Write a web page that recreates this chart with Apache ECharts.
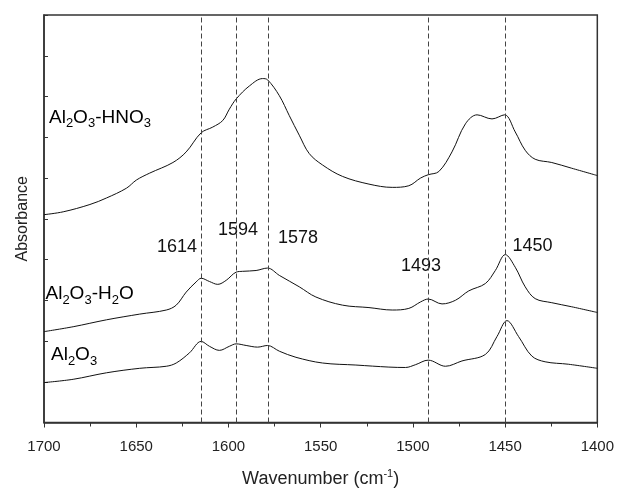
<!DOCTYPE html>
<html><head><meta charset="utf-8">
<script src="https://cdn.jsdelivr.net/npm/echarts@6/dist/echarts.min.js"></script>
<style>html,body{margin:0;padding:0;background:#fff}#c{width:617px;height:493px}</style>
</head><body><div id="c"></div>
<script>
// ---- data (wavenumber cm-1, absorbance in arbitrary stacked units) ----
const xTickLabels = [1700, 1650, 1600, 1550, 1500, 1450, 1400];
const peakMarks = [1614.6, 1595.7, 1578.5, 1491.8, 1450];
const peakLabels = ['1614', '1594', '1578', '1493', '1450'];
const seriesNames = ['Al2O3-HNO3', 'Al2O3-H2O', 'Al2O3'];

const hno3 = [[1700,5.10],[1689.6,5.17],[1675.1,5.35],[1666.1,5.51],[1655.3,5.75],[1649.9,5.95],[1642.7,6.12],[1630.1,6.38],[1622.9,6.64],[1614.8,7.11],[1608.5,7.25],[1603.1,7.41],[1599.5,7.69],[1595.8,7.94],[1588.6,8.26],[1581.5,8.44],[1578.8,8.41],[1572.4,8.02],[1567.0,7.53],[1561.6,7.05],[1556.2,6.60],[1549.0,6.32],[1538.2,6.04],[1523.8,5.85],[1511.2,5.77],[1502.2,5.81],[1495.8,6.00],[1491.7,6.08],[1485.9,6.16],[1478.8,6.64],[1471.5,7.33],[1465.2,7.55],[1457.1,7.45],[1450.3,7.55],[1444.5,7.13],[1439.1,6.68],[1433.7,6.46],[1424.7,6.38],[1413.9,6.24],[1400,6.06]];

const h2o = [[1700,2.23],[1684.2,2.35],[1666.1,2.52],[1648.1,2.66],[1633.7,2.76],[1628.3,2.88],[1622.9,3.20],[1617.5,3.45],[1614.8,3.54],[1610.3,3.46],[1605.8,3.39],[1601.2,3.49],[1595.8,3.69],[1592.3,3.71],[1585.0,3.73],[1578.8,3.79],[1572.4,3.61],[1561.6,3.33],[1552.6,3.08],[1538.2,2.88],[1523.8,2.82],[1511.2,2.76],[1502.2,2.80],[1495.8,2.96],[1491.7,3.03],[1484.2,2.91],[1476.9,3.00],[1469.7,3.23],[1460.7,3.41],[1455.3,3.73],[1449.9,4.12],[1444.5,3.81],[1439.1,3.33],[1433.7,3.04],[1424.7,2.94],[1413.9,2.84],[1400,2.70]];

const al2o3 = [[1700,0.98],[1684.2,1.06],[1666.1,1.22],[1648.1,1.33],[1633.7,1.38],[1628.3,1.46],[1621.1,1.71],[1614.8,1.99],[1610.3,1.87],[1604.9,1.77],[1599.5,1.87],[1595.8,1.93],[1590.4,1.89],[1584.2,1.85],[1578.8,1.89],[1572.4,1.75],[1563.4,1.60],[1549.0,1.46],[1530.9,1.41],[1513.0,1.36],[1504.0,1.35],[1498.5,1.42],[1491.7,1.53],[1482.3,1.38],[1473.4,1.51],[1460.7,1.67],[1454.4,2.11],[1449.0,2.50],[1442.7,2.11],[1435.5,1.63],[1428.3,1.49],[1415.7,1.43],[1400,1.33]];

// ---- chart ----
const FONT = '"Liberation Sans", Arial, Helvetica, sans-serif';
const chart = echarts.init(document.getElementById('c'), null, {renderer: 'canvas'});

function lineSeries(name, data, withMarks) {
  const s = {
    name, type: 'line', data, smooth: 0.35, symbol: 'none', animation: false,
    lineStyle: {color: '#111', width: 1}, z: 3
  };
  if (withMarks) {
    s.markLine = {
      silent: true, symbol: ['none', 'none'], animation: false,
      label: {show: false},
      lineStyle: {type: [5, 3], color: '#444', width: 1},
      data: peakMarks.map(v => ({xAxis: v}))
    };
  }
  return s;
}

const labelRich = {
  m: {fontSize: 19, fontFamily: FONT, color: '#111'},
  s: {fontSize: 13, fontFamily: FONT, color: '#111', padding: [12, 0, 0, 0]}
};
function chem(str) {
  return str.split(/(\d)/).filter(t => t.length).map(t => /\d/.test(t) ? '{s|' + t + '}' : '{m|' + t + '}').join('');
}

const seriesLabelPos = [[49, 117.5], [45.5, 294], [51, 355]];
const peakLabelPos = [[177, 247.5], [238, 230.5], [298, 238.5], [421, 266.5], [532.5, 246]];

const option = {
  backgroundColor: '#fff',
  animation: false,
  grid: {left: 44, top: 15, width: 555, height: 412, show: true, borderColor: '#333', borderWidth: 1.5, containLabel: false},
  xAxis: {
    type: 'value', inverse: true,
    min: xTickLabels[xTickLabels.length - 1], max: xTickLabels[0], interval: 50,
    axisLine: {lineStyle: {color: '#333', width: 1.5}},
    axisTick: {inside: false, length: 5, lineStyle: {color: '#333', width: 1}},
    minorTick: {show: true, splitNumber: 2, length: 4, lineStyle: {color: '#333', width: 1}},
    splitLine: {show: false}, minorSplitLine: {show: false},
    axisLabel: {fontSize: 15, color: '#222', fontFamily: FONT, margin: 17, formatter: v => String(v)},
    name: '{t|Wavenumber (cm}{u|-1}{t|)}',
    nameLocation: 'middle', nameGap: 46,
    nameTextStyle: {rich: {
      t: {fontSize: 18, fontFamily: FONT, color: '#222'},
      u: {fontSize: 11, fontFamily: FONT, color: '#222', padding: [0, 0, 10, 0]}
    }}
  },
  yAxis: {
    type: 'value', min: 0, max: 10, interval: 1,
    axisLine: {show: true, lineStyle: {color: '#333', width: 1.5}},
    axisTick: {show: true, inside: true, length: 4, lineStyle: {color: '#333', width: 1}},
    axisLabel: {show: false},
    splitLine: {show: false},
    name: 'Absorbance', nameLocation: 'middle', nameGap: 13,
    nameTextStyle: {fontSize: 16, fontFamily: FONT, color: '#222'}
  },
  series: [
    lineSeries(seriesNames[0], hno3, true),
    lineSeries(seriesNames[1], h2o, false),
    lineSeries(seriesNames[2], al2o3, false)
  ],
  graphic: [
    ...seriesNames.map((n, i) => ({
      type: 'text', x: seriesLabelPos[i][0], y: seriesLabelPos[i][1], silent: true,
      style: {text: chem(n), rich: labelRich, align: 'left', verticalAlign: 'middle'}
    })),
    ...peakLabels.map((t, i) => ({
      type: 'text', x: peakLabelPos[i][0], y: peakLabelPos[i][1], silent: true,
      style: {text: t, fontSize: 18, fontFamily: FONT, fill: '#111', align: 'center', verticalAlign: 'middle'}
    }))
  ]
};
chart.setOption(option);
</script>
</body></html>
